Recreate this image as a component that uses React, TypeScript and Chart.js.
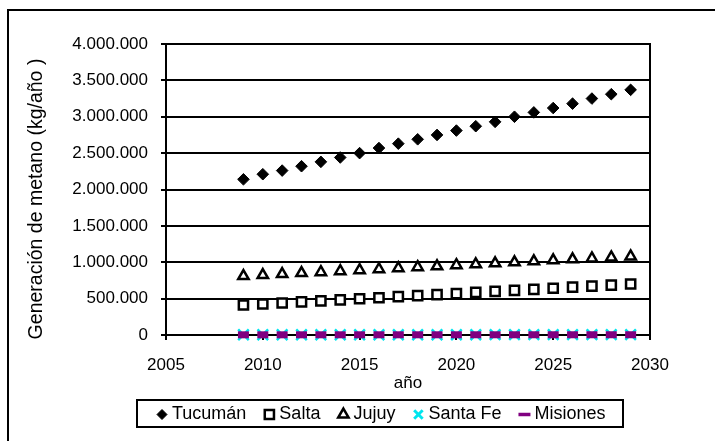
import React, { useEffect, useRef } from "react";
import { Chart, registerables } from "chart.js";
import { drawPoint } from "chart.js/helpers";

Chart.register(...registerables);

// Años proyectados
const years = [
  2009, 2010, 2011, 2012, 2013, 2014, 2015, 2016, 2017, 2018, 2019,
  2020, 2021, 2022, 2023, 2024, 2025, 2026, 2027, 2028, 2029,
];

// Generación de metano por provincia (kg/año)
const tucuman = [
  2140000, 2210000, 2260000, 2320000, 2380000, 2440000, 2500000, 2570000,
  2630000, 2690000, 2750000, 2810000, 2870000, 2930000, 3000000, 3060000,
  3120000, 3180000, 3250000, 3310000, 3370000,
];
const salta = [
  412000, 426000, 440000, 455000, 469000, 483000, 498000, 512000, 527000,
  541000, 556000, 570000, 585000, 600000, 614000, 628000, 643000, 657000,
  672000, 686000, 701000,
];
const jujuy = [
  810000, 824000, 837000, 851000, 864000, 878000, 891000, 905000, 918000,
  932000, 945000, 959000, 972000, 986000, 999000, 1013000, 1026000, 1040000,
  1053000, 1067000, 1080000,
];
const santaFe = [
  3000, 3100, 3200, 3300, 3400, 3500, 3600, 3700, 3800, 3900, 4000,
  4100, 4200, 4300, 4400, 4500, 4600, 4700, 4800, 4900, 5000,
];
const misiones = [
  2500, 2550, 2600, 2650, 2700, 2750, 2800, 2850, 2900, 2950, 3000, 3050,
  3100, 3150, 3200, 3250, 3300, 3350, 3400, 3450, 3500,
];

const xTicks = [2005, 2010, 2015, 2020, 2025, 2030];

const yTitle = "Generación de metano (kg/año )";
const xTitle = "año";

const FONT = "'Liberation Sans', Arial, Helvetica, sans-serif";

const toPoints = (vals: number[]) => vals.map((v, i) => ({ x: years[i], y: v }));

const fmtMiles = (v: number) =>
  Math.round(v).toString().replace(/\B(?=(\d{3})+(?!\d))/g, ".");

type SeriesStyle = {
  label: string;
  values: number[];
  pointStyle: string;
  radius: number;
  fill: string;
  stroke: string;
  border: number;
  legendRadius: number;
  legendBorder: number;
  order: number;
};

const series: SeriesStyle[] = [
  { label: "Tucumán", values: tucuman, pointStyle: "rectRot", radius: 5.8, fill: "#000000", stroke: "#000000", border: 1, legendRadius: 5, legendBorder: 1, order: 1 },
  { label: "Salta", values: salta, pointStyle: "rect", radius: 6.5, fill: "#ffffff", stroke: "#000000", border: 2.5, legendRadius: 6.5, legendBorder: 2.5, order: 1 },
  { label: "Jujuy", values: jujuy, pointStyle: "triangle", radius: 6, fill: "#ffffff", stroke: "#000000", border: 2.5, legendRadius: 6, legendBorder: 2.5, order: 1 },
  { label: "Santa Fe", values: santaFe, pointStyle: "crossRot", radius: 7.5, fill: "#00ffff", stroke: "#00e5ee", border: 2.5, legendRadius: 6, legendBorder: 3, order: 1 },
  { label: "Misiones", values: misiones, pointStyle: "line", radius: 5.5, fill: "#800080", stroke: "#800080", border: 7, legendRadius: 6, legendBorder: 3.5, order: 0 },
];

// Marco exterior, marco del área de trazado, título vertical y leyenda recuadrada
const framePlugin = {
  id: "frame",
  beforeDraw(chart: any) {
    const { ctx, width, height } = chart;
    ctx.save();
    ctx.fillStyle = "#ffffff";
    ctx.fillRect(0, 0, width, height);
    ctx.strokeStyle = "#000000";
    ctx.lineWidth = 2;
    ctx.strokeRect(8, 10, width + 20, height + 20);
    ctx.restore();
  },
  afterDraw(chart: any) {
    const { ctx, chartArea } = chart;
    ctx.save();
    ctx.strokeStyle = "#000000";
    ctx.lineWidth = 2;
    ctx.beginPath();
    ctx.moveTo(chartArea.left, chartArea.top);
    ctx.lineTo(chartArea.right, chartArea.top);
    ctx.lineTo(chartArea.right, chartArea.bottom);
    ctx.stroke();

    // Título del eje vertical
    ctx.save();
    ctx.translate(37, 199);
    ctx.rotate(-Math.PI / 2);
    ctx.font = `19.5px ${FONT}`;
    ctx.fillStyle = "#000000";
    ctx.textAlign = "center";
    ctx.textBaseline = "middle";
    ctx.fillText(yTitle, 0, 0);
    ctx.restore();

    // Leyenda
    const box = { x: 137, y: 400, w: 486, h: 27 };
    ctx.strokeRect(box.x, box.y, box.w, box.h);
    ctx.font = `18px ${FONT}`;
    ctx.textBaseline = "middle";
    ctx.textAlign = "left";
    const cy = box.y + box.h / 2 + 1;
    let x = box.x + 20;
    series.forEach((s) => {
      ctx.fillStyle = s.fill;
      ctx.strokeStyle = s.stroke;
      ctx.lineWidth = s.legendBorder;
      drawPoint(
        ctx,
        { pointStyle: s.pointStyle as any, radius: s.legendRadius, borderWidth: s.legendBorder, rotation: 0 },
        x + 5,
        cy
      );
      ctx.fillStyle = "#000000";
      ctx.fillText(s.label, x + 15, cy);
      x += 15 + ctx.measureText(s.label).width + 18;
    });
    ctx.restore();
  },
};

export default function App() {
  const canvasRef = useRef<HTMLCanvasElement | null>(null);

  useEffect(() => {
    const canvas = canvasRef.current;
    if (!canvas) return;
    const chart = new Chart(canvas, {
      type: "line",
      data: {
        datasets: series.map((s) => ({
          label: s.label,
          data: toPoints(s.values),
          showLine: false,
          clip: 20,
          pointStyle: s.pointStyle as any,
          pointRadius: s.radius,
          pointHoverRadius: s.radius,
          pointBackgroundColor: s.fill,
          pointBorderColor: s.stroke,
          pointBorderWidth: s.border,
          borderColor: s.stroke,
          backgroundColor: s.fill,
          order: s.order,
        })),
      },
      options: {
        responsive: false,
        animation: false,
        devicePixelRatio: 1,
        layout: { padding: { left: 0, right: 65, top: 44, bottom: 48 } },
        plugins: {
          legend: { display: false },
          tooltip: { enabled: false },
        },
        scales: {
          x: {
            type: "linear",
            min: 2005,
            max: 2030,
            afterBuildTicks: (scale: any) => {
              scale.ticks = xTicks.map((v) => ({ value: v }));
            },
            afterFit: (scale: any) => {
              scale.height = 58;
            },
            grid: {
              drawOnChartArea: false,
              drawTicks: true,
              tickLength: 5,
              color: "#000000",
              lineWidth: 2,
            },
            border: { color: "#000000", width: 2 },
            ticks: {
              color: "#000000",
              font: { family: FONT, size: 17 },
              padding: 15,
              maxRotation: 0,
              callback: (v: any) => String(v),
            },
            title: {
              display: true,
              text: xTitle,
              color: "#000000",
              font: { family: FONT, size: 17 },
              padding: { top: 0, bottom: -1 },
            },
          },
          y: {
            type: "linear",
            min: 0,
            max: 4000000,
            afterFit: (scale: any) => {
              scale.width = 166;
            },
            grid: {
              color: "#000000",
              lineWidth: 2,
              drawTicks: true,
              tickLength: 5,
            },
            border: { color: "#000000", width: 2 },
            ticks: {
              stepSize: 500000,
              color: "#000000",
              font: { family: FONT, size: 17 },
              padding: 13,
              callback: (v: any) => fmtMiles(Number(v)),
            },
          },
        },
      },
      plugins: [framePlugin],
    });
    return () => chart.destroy();
  }, []);

  return (
    <div style={{ position: "fixed", left: 0, top: 0, width: 715, height: 441, background: "#ffffff" }}>
      <canvas ref={canvasRef} width={715} height={441} style={{ display: "block", width: 715, height: 441 }} />
    </div>
  );
}
